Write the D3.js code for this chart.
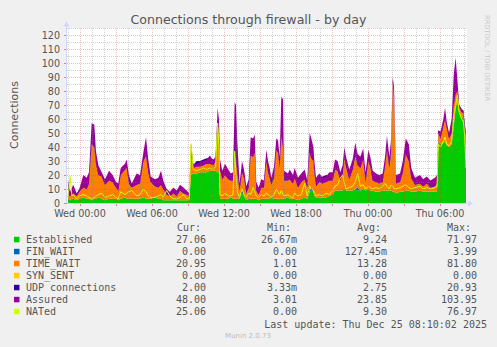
<!DOCTYPE html>
<meta charset="utf-8">
<style>
body { margin: 0; background: #f0f0f0; }
svg { display: block; font-family: 'DejaVu Sans', sans-serif; }
.legend text { font-family: 'DejaVu Sans Mono', monospace; font-size: 10px; fill: #555; }
</style>
<svg width="497" height="347"></svg>
<script src="https://d3js.org/d3.v7.min.js"></script>
<script>
// hours relative to Wed 00:00 (Dec 24 2025)
var hours = [
  -1.00, -0.83, -0.67, -0.56, -0.28, -0.06, 0.28, 0.56, 0.75, 0.97,
  1.19, 1.33, 1.53, 1.81, 2.08, 2.42, 2.72, 3.00, 3.19, 3.39,
  3.75, 3.89, 4.08, 4.31, 4.72, 5.00, 5.28, 5.50, 5.69, 5.89,
  6.25, 6.53, 6.75, 6.94, 7.22, 7.50, 7.78, 8.06,
  8.33, 8.61, 8.89, 9.10, 9.25, 9.44, 9.72, 10.00, 10.28, 10.56,
  10.83, 11.11, 11.30, 11.47, 11.58, 11.67, 11.86, 12.08, 12.36,
  12.56, 12.75, 12.89, 13.00, 13.11, 13.30, 13.50, 13.67, 13.86, 14.06,
  14.22, 14.42, 14.56, 14.69, 14.89, 15.11, 15.33, 15.53, 15.67, 15.81,
  15.94, 16.17, 16.36, 16.50, 16.64, 16.78, 16.92, 17.00, 17.33, 17.47,
  17.75, 17.89, 18.17, 18.44, 18.72, 18.94, 19.14, 19.28,
  19.45, 19.53, 19.67, 19.94, 20.22, 20.50, 20.78, 21.06, 21.25, 21.47,
  21.69, 21.89, 22.03, 22.17, 22.44, 22.72, 22.94, 23.14, 23.36, 23.60,
  23.80, 24.03, 24.19, 24.39, 24.67, 24.94, 25.22, 25.42, 25.58, 25.78,
  25.92, 26.06, 26.17,
  26.33, 26.67, 26.90, 27.15, 27.40, 27.60, 27.92, 28.33, 28.60, 28.90,
  29.20, 29.58, 29.75, 29.86, 30.05, 30.28, 30.42, 30.56, 30.75, 30.97,
  31.15, 31.30, 31.45, 31.60, 31.80, 31.95, 32.05, 32.17
];

var established = [
  3, 2, 3, 3, 2, 3, 4, 3, 3, 2,  3, 3, 4, 3, 2, 3, 3, 3, 2, 3,
  4, 3, 3, 3, 3, 3, 4, 3, 3, 3,  4, 3, 3, 2, 2, 2, 2, 2,
  2, 2, 2, 2, 20, 21, 21, 22, 22, 22, 23, 23, 23, 22, 22, 3, 3, 3, 3,
  4, 3, 3, 3, 3, 3, 7, 5, 2, 3,  3, 3, 3, 3, 2, 3, 3, 3, 3, 3,
  4, 3, 3, 3, 3, 3, 3, 3, 4, 3,  3, 3, 2, 3, 4, 3, 8, 9,
  8, 5, 4, 4, 4, 4, 5, 6, 9, 9,  9, 9, 10, 9, 9, 9, 10, 9, 9, 10,
  9, 10, 9, 9, 8, 8, 9, 9, 9, 9,  9, 8, 8,
  7, 8, 8, 9, 9, 8, 8, 9, 8, 8,  8, 8, 8, 44, 42, 43, 44, 41, 40, 42,
  55, 68, 72, 64, 62, 60, 50, 27
];

var finWait = [
  0, 0, 0, 0, 0, 0, 0, 0, 0, 0,  0, 0, 0, 0, 0, 0, 0, 0, 0, 0,
  0, 0, 0, 0, 0, 0, 0, 0, 0, 0,  0, 0, 0, 0, 0, 0, 0, 0,
  0, 0, 0, 0, 0, 0, 0, 0, 0, 0,  0, 0, 0, 0, 0, 0, 0, 0, 0,
  0, 0, 0, 0, 0, 0, 4, 0, 0, 0,  0, 0, 0, 0, 0, 0, 0, 0, 0, 0,
  0, 0, 0, 0, 0, 0, 0, 0, 0, 0,  0, 0, 0, 0, 0, 0, 0, 3,
  0, 0, 0, 0, 0, 0, 0, 0, 0, 0,  0, 0, 0, 0, 0, 0, 0, 2, 0, 0,
  0, 0, 0, 0, 0, 0, 0, 0, 0, 0,  0, 0, 0,
  0, 0, 0, 0, 0, 0, 0, 0, 0, 0,  0, 0, 0, 0, 0, 0, 0, 0, 0, 0,
  0, 0, 0, 0, 0, 0, 0, 0
];

var timeWait = [
  3, 3, 3, 4, 3, 5, 7, 7, 11, 40,  37, 25, 16, 16, 11, 13, 12, 8, 7, 17,
  20, 22, 11, 8, 10, 11, 26, 31, 19, 12,  8, 8, 10, 8, 4, 3, 5, 3,
  7, 5, 4, 3, 16, 4, 5, 4, 5, 6,  5, 4, 7, 36, 23, 21, 14, 17, 14,
  12, 13, 32, 27, 19, 6, 11, 13, 5, 8,  31, 30, 33, 6, 4, 8, 8, 27, 19, 15,
  9, 15, 35, 33, 22, 45, 37, 13, 12, 14,  11, 15, 9, 12, 13, 8, 28, 20,
  22, 17, 8, 11, 10, 11, 11, 10, 15, 14,  7, 12, 22, 17, 8, 15, 24, 16, 16, 21,
  6, 20, 17, 7, 7, 6, 6, 17, 29, 16,  27, 78, 67,
  7, 7, 14, 26, 21, 10, 5, 5, 4, 6,  3, 4, 6, 6, 4, 12, 16, 13, 6, 8,
  15, 10, 8, 4, 3, 4, 4, 21
];

var synSent = [
  0, 0, 0, 0, 0, 0, 0, 0, 0, 0,  0, 0, 0, 0, 0, 0, 0, 0, 0, 0,
  0, 0, 0, 0, 0, 0, 0, 0, 0, 0,  0, 0, 0, 0, 0, 0, 0, 0,
  0, 0, 0, 0, 0, 0, 0, 0, 0, 0,  0, 0, 0, 0, 0, 0, 0, 0, 0,
  0, 0, 0, 0, 0, 0, 0, 0, 0, 0,  0, 0, 0, 0, 0, 0, 0, 0, 0, 0,
  0, 0, 0, 0, 0, 0, 0, 0, 0, 0,  0, 0, 0, 0, 0, 0, 0, 0,
  0, 0, 0, 0, 0, 0, 0, 0, 0, 0,  0, 0, 0, 0, 0, 0, 0, 0, 0, 0,
  0, 0, 0, 0, 0, 0, 0, 0, 0, 0,  0, 0, 0,
  0, 0, 0, 0, 0, 0, 0, 0, 0, 0,  0, 0, 0, 0, 0, 0, 0, 0, 0, 0,
  0, 0, 0, 0, 0, 0, 0, 0
];

var udp = [
  2, 2, 2, 2, 1, 2, 2, 3, 2, 2,  2, 2, 2, 2, 2, 2, 2, 2, 2, 2,
  2, 2, 2, 2, 2, 2, 2, 2, 2, 2,  2, 2, 2, 2, 2, 1, 2, 1,
  2, 2, 2, 1, 2, 2, 4, 4, 4, 4,  4, 4, 2, 2, 2, 2, 2, 2, 2,
  2, 3, 3, 3, 3, 2, 2, 2, 2, 2,  2, 2, 2, 2, 2, 2, 2, 2, 2, 2,
  2, 2, 2, 2, 2, 2, 2, 2, 2, 2,  2, 2, 2, 2, 2, 2, 2, 2,
  2, 2, 2, 3, 5, 5, 4, 3, 3, 3,  2, 3, 3, 3, 2, 3, 2, 2, 2, 2,
  2, 2, 2, 2, 2, 2, 2, 2, 2, 2,  2, 2, 2,
  2, 2, 2, 2, 2, 2, 2, 2, 2, 2,  2, 2, 2, 2, 2, 2, 2, 2, 2, 2,
  2, 2, 2, 2, 2, 2, 2, 2
];

var assured = [
  16, 8, 11, 13, 7, 10, 20, 18, 22, 57,  56, 37, 27, 22, 17, 23, 20, 15, 14, 25,
  28, 31, 20, 14, 21, 20, 36, 47, 31, 19,  17, 18, 23, 16, 10, 8, 11, 9,
  13, 11, 9, 7, 43, 28, 28, 29, 30, 31,  34, 30, 34, 68, 60, 31, 23, 28, 24,
  21, 22, 72, 70, 44, 14, 30, 24, 12, 17,  47, 46, 49, 15, 11, 17, 16, 38, 30, 25,
  18, 26, 46, 45, 33, 76, 74, 23, 21, 24,  20, 25, 18, 21, 24, 16, 50, 46,
  40, 30, 18, 21, 18, 19, 22, 22, 31, 30,  22, 27, 40, 33, 24, 31, 43, 35, 33, 39,
  22, 38, 33, 23, 21, 20, 21, 33, 48, 33,  45, 90, 83,
  20, 21, 30, 46, 42, 25, 18, 20, 17, 19,  16, 18, 20, 52, 51, 60, 68, 58, 50, 60,
  92, 104, 88, 70, 67, 66, 58, 48
];

var nated = [
  4, 19, 5, 6, 3, 5, 6, 5, 4, 3,  4, 5, 6, 7, 4, 5, 6, 4, 3, 8,
  6, 7, 8, 9, 5, 6, 10, 8, 5, 4,  4, 5, 6, 4, 9, 5, 3, 3,
  4, 6, 3, 3, 42, 24, 23, 24, 25, 24,  25, 24, 26, 57, 40, 6, 5, 7, 5,
  5, 6, 37, 20, 8, 4, 10, 6, 4, 7,  6, 11, 8, 5, 4, 6, 5, 7, 6, 5,
  4, 6, 10, 8, 6, 9, 6, 5, 6, 5,  4, 7, 5, 6, 14, 5, 12, 10,
  9, 7, 5, 6, 5, 7, 6, 9, 12, 13,  18, 20, 14, 10, 11, 12, 15, 21, 12, 13,
  10, 12, 11, 10, 11, 10, 12, 14, 12, 10,  13, 12, 10,
  10, 11, 12, 13, 11, 10, 11, 12, 10, 11,  10, 11, 12, 42, 40, 44, 47, 42, 41, 44,
  62, 70, 77, 65, 60, 58, 48, 25
];

var seriesNames = ["Established", "FIN_WAIT", "TIME_WAIT", "SYN_SENT", "UDP connections", "Assured", "NATed"];
var seriesColors = ["#00cc00", "#0066b3", "#ff8000", "#ffcc00", "#330099", "#990099", "#ccff00"];
var legCur = ["27.06", "0.00", "20.95", "0.00", "2.00", "48.00", "25.06"];
var legMin = ["26.67m", "0.00", "1.01", "0.00", "3.33m", "3.01", "0.00"];
var legAvg = ["9.24", "127.45m", "13.28", "0.00", "2.75", "23.85", "9.30"];
var legMax = ["71.97", "3.99", "81.80", "0.00", "20.93", "103.95", "76.97"];
var yTicks = [0, 10, 20, 30, 40, 50, 60, 70, 80, 90, 100, 110, 120];

var svg = d3.select("svg");
var plotL = 67, plotR = 467, plotT = 28, plotB = 203;

var t0 = new Date(2025, 11, 24, 0, 0, 0);
function at(h) { return new Date(t0.getTime() + h * 3600000); }

var x = d3.scaleTime().domain([at(-65 / 60), at(32.25)]).range([plotL, plotR]);
var y = d3.scaleLinear().domain([0, 125]).range([plotB, plotT]);

var rows = hours.map(function(h, i) {
  return { date: at(h), established: established[i], finWait: finWait[i], timeWait: timeWait[i],
           synSent: synSent[i], udp: udp[i], assured: assured[i], nated: nated[i] };
});
var stackKeys = ["established", "finWait", "timeWait", "synSent", "udp"];
var stacked = d3.stack().keys(stackKeys)(rows);

svg.append("rect").attr("width", 497).attr("height", 347).attr("fill", "#f0f0f0");
svg.append("rect").attr("x", plotL).attr("y", plotT).attr("width", plotR - plotL).attr("height", plotB - plotT).attr("fill", "#fff");

svg.append("clipPath").attr("id", "plotclip").append("rect")
  .attr("x", plotL).attr("y", plotT).attr("width", plotR - plotL - 1).attr("height", plotB - plotT);

var plot = svg.append("g").attr("clip-path", "url(#plotclip)");

var area = d3.area()
  .x(function(d) { return x(d.data.date); })
  .y0(function(d) { return y(d[0]); })
  .y1(function(d) { return y(d[1]); });

stacked.forEach(function(layer, i) {
  plot.append("path").datum(layer).attr("d", area).attr("fill", seriesColors[i]);
});

// assured drawn over the stack, from the top of the syn_sent layer
var assuredArea = d3.area()
  .x(function(d) { return x(d.date); })
  .y0(function(d, i) { return y(stacked[3][i][1]); })
  .y1(function(d, i) { return y(Math.max(d.assured, stacked[3][i][1])); });
plot.append("path").datum(rows).attr("d", assuredArea).attr("fill", seriesColors[5]);

var natedLine = d3.line()
  .x(function(d) { return x(d.date); })
  .y(function(d) { return y(d.nated); });
plot.append("path").datum(rows).attr("d", natedLine)
  .attr("fill", "none").attr("stroke", seriesColors[6]).attr("stroke-width", 1);

// grid on top of the data
var grid = svg.append("g").attr("shape-rendering", "crispEdges");
var minorCol = "rgba(128,128,128,0.35)", majorCol = "rgba(200,70,70,0.35)";

d3.range(5, 126, 5).forEach(function(v) {
  grid.append("line")
    .attr("x1", plotL).attr("x2", plotR - 1)
    .attr("y1", Math.round(y(v)) + 0.5).attr("y2", Math.round(y(v)) + 0.5)
    .attr("stroke", v % 10 === 0 ? majorCol : minorCol)
    .attr("stroke-dasharray", "1,1");
});

x.ticks(d3.timeHour.every(1)).forEach(function(t) {
  var xx = Math.round(x(t)) + 0.5;
  var major = t.getHours() % 3 === 0;
  grid.append("line")
    .attr("x1", xx).attr("x2", xx).attr("y1", plotT).attr("y2", plotB)
    .attr("stroke", major ? majorCol : minorCol)
    .attr("stroke-dasharray", "1,1");
  if (major) {
    grid.append("line")
      .attr("x1", xx).attr("x2", xx).attr("y1", plotB).attr("y2", plotB + 3)
      .attr("stroke", "rgba(210,60,60,0.6)");
  }
});

yTicks.forEach(function(v) {
  var yy = Math.round(y(v)) + 0.5;
  grid.append("line").attr("x1", plotL - 3).attr("x2", plotL).attr("y1", yy).attr("y2", yy)
    .attr("stroke", "rgba(210,60,60,0.6)");
});

// axes with arrows
var axisCol = "#cfd6f8";
svg.append("line").attr("x1", plotL).attr("x2", 470).attr("y1", plotB + 0.5).attr("y2", plotB + 0.5)
  .attr("stroke", axisCol);
svg.append("path").attr("d", "M468,200.5L473,203.5L468,206.5Z").attr("fill", axisCol);
svg.append("line").attr("x1", plotL - 0.5).attr("x2", plotL - 0.5).attr("y1", plotB).attr("y2", 25)
  .attr("stroke", axisCol);
svg.append("path").attr("d", "M63.5,26.5L66.5,21.5L69.5,26.5Z").attr("fill", axisCol);

// tick labels
var fontCol = "#555";
yTicks.forEach(function(v) {
  svg.append("text").attr("x", 60).attr("y", y(v) + 3.5)
    .attr("text-anchor", "end").attr("font-size", "9.6px").attr("fill", fontCol).text(v);
});

var fmt = d3.timeFormat("%a %H:%M");
x.ticks(d3.timeHour.every(6)).forEach(function(t) {
  svg.append("text").attr("x", x(t)).attr("y", 216.5)
    .attr("text-anchor", "middle").attr("font-size", "9.6px").attr("fill", fontCol).text(fmt(t));
});

// titles
svg.append("text").attr("x", 248.5).attr("y", 23.5).attr("text-anchor", "middle")
  .attr("font-size", "12.6px").attr("fill", fontCol).text("Connections through firewall - by day");
svg.append("text").attr("transform", "translate(18,115) rotate(-90)").attr("text-anchor", "middle")
  .attr("font-size", "11px").attr("fill", fontCol).text("Connections");
svg.append("text").attr("transform", "translate(485,15) rotate(90)").attr("text-anchor", "start")
  .attr("font-size", "6.7px").attr("fill", "#c8c8c8").text("RRDTOOL / TOBI OETIKER");

// legend
var leg = svg.append("g").attr("class", "legend");
[["Cur:", 177], ["Min:", 267], ["Avg:", 357], ["Max:", 447]].forEach(function(h) {
  leg.append("text").attr("x", h[1]).attr("y", 231).text(h[0]);
});
seriesNames.forEach(function(name, i) {
  var yy = 243.3 + i * 12;
  leg.append("rect").attr("x", 14).attr("y", yy - 6.5).attr("width", 5.5).attr("height", 5.5)
    .attr("fill", seriesColors[i]);
  leg.append("text").attr("x", 26).attr("y", yy).text(name);
  leg.append("text").attr("x", 206).attr("y", yy).attr("text-anchor", "end").text(legCur[i]);
  leg.append("text").attr("x", 297).attr("y", yy).attr("text-anchor", "end").text(legMin[i]);
  leg.append("text").attr("x", 387).attr("y", yy).attr("text-anchor", "end").text(legAvg[i]);
  leg.append("text").attr("x", 477).attr("y", yy).attr("text-anchor", "end").text(legMax[i]);
});
leg.append("text").attr("x", 487).attr("y", 327.5).attr("text-anchor", "end")
  .text("Last update: Thu Dec 25 08:10:02 2025");
svg.append("text").attr("x", 248).attr("y", 337.5).attr("text-anchor", "middle")
  .attr("font-size", "7px").attr("fill", "#bbb").text("Munin 2.0.73");
</script>
